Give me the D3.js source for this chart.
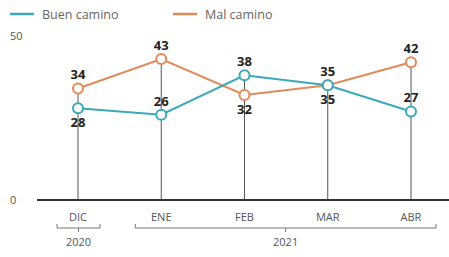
<!DOCTYPE html>
<html>
<head>
<meta charset="utf-8">
<script src="https://cdn.jsdelivr.net/npm/d3@7"></script>
<style>
  body { margin: 0; background: #fff; }
  text { font-family: "Open Sans", sans-serif; }
</style>
</head>
<body>
<div id="plot"></div>
<script>
// data
const months = ["DIC", "ENE", "FEB", "MAR", "ABR"];
const buenCamino = [28, 26, 38, 35, 27];
const malCamino = [34, 43, 32, 35, 42];
const yTicks = [0, 50];
const years = [
  { year: "2020", from: "DIC", to: "DIC" },
  { year: "2021", from: "ENE", to: "ABR" }
];

const width = 449, height = 257;
const teal = "#3aaab8", orange = "#e2895a";

const svg = d3.select("div#plot").append("svg")
    .attr("width", width)
    .attr("height", height);

const x = d3.scalePoint()
    .domain(months)
    .range([78, 411]);

const y = d3.scaleLinear()
    .domain([0, 50])
    .range([200, 36]);

// legend
const legend = [{ name: "Buen camino", color: teal, x: 10 }, { name: "Mal camino", color: orange, x: 173 }];
legend.forEach(l => {
  svg.append("line")
      .attr("x1", l.x).attr("x2", l.x + 24)
      .attr("y1", 14).attr("y2", 14)
      .attr("stroke", l.color).attr("stroke-width", 2.5);
  svg.append("text")
      .attr("x", l.x + 32).attr("y", 18.5)
      .attr("font-size", 12.5)
      .attr("fill", "#666")
      .text(l.name);
});

// y tick labels
svg.selectAll(".ytick")
  .data(yTicks)
  .enter().append("text")
    .attr("class", "ytick")
    .attr("x", 10)
    .attr("y", d => y(d) + 4)
    .attr("font-size", 11)
    .attr("fill", "#555")
    .text(d => d);

// vertical drop lines
svg.selectAll(".drop")
  .data(months)
  .enter().append("line")
    .attr("class", "drop")
    .attr("x1", d => x(d)).attr("x2", d => x(d))
    .attr("y1", (d, i) => y(Math.max(buenCamino[i], malCamino[i])))
    .attr("y2", y(0))
    .attr("stroke", "#555")
    .attr("stroke-width", 1);

// baseline
svg.append("line")
    .attr("x1", 37).attr("x2", width)
    .attr("y1", y(0)).attr("y2", y(0))
    .attr("stroke", "#333")
    .attr("stroke-width", 2);

// month labels
svg.selectAll(".month")
  .data(months)
  .enter().append("text")
    .attr("class", "month")
    .attr("x", d => x(d))
    .attr("y", 221)
    .attr("text-anchor", "middle")
    .attr("font-size", 11)
    .attr("fill", "#555")
    .text(d => d);

// year brackets
years.forEach(yr => {
  const x0 = x(yr.from) - (yr.from === yr.to ? 21 : 26);
  const x1 = x(yr.to) + (yr.from === yr.to ? 22 : 25);
  const mid = (x0 + x1) / 2;
  const g = svg.append("g").attr("stroke", "#777").attr("stroke-width", 1).attr("fill", "none");
  g.append("path").attr("d", `M${x0},224V228H${x1}V224`);
  g.append("line").attr("x1", mid).attr("x2", mid).attr("y1", 228).attr("y2", 232);
  svg.append("text")
      .attr("x", mid).attr("y", 246)
      .attr("text-anchor", "middle")
      .attr("font-size", 11)
      .attr("fill", "#555")
      .text(yr.year);
});

const series = [
  { values: malCamino, other: buenCamino, color: orange },
  { values: buenCamino, other: malCamino, color: teal }
];

const line = d3.line()
    .x((d, i) => x(months[i]))
    .y(d => y(d));

series.forEach(s => {
  svg.append("path")
      .datum(s.values)
      .attr("d", line)
      .attr("fill", "none")
      .attr("stroke", s.color)
      .attr("stroke-width", 2);
});

series.forEach(s => {
  svg.selectAll(null)
    .data(s.values)
    .enter().append("circle")
      .attr("cx", (d, i) => x(months[i]))
      .attr("cy", d => y(d))
      .attr("r", 5)
      .attr("fill", "#fff")
      .attr("stroke", s.color)
      .attr("stroke-width", 2);
});

// value labels: higher point above, lower point below unless the gap is wide
series.forEach((s, k) => {
  svg.selectAll(null)
    .data(s.values)
    .enter().append("text")
      .attr("x", (d, i) => x(months[i]))
      .attr("y", (d, i) => {
        const o = s.other[i];
        const above = d > o || (d === o && k === 0) || (o - d >= 10);
        return above ? y(d) - 9 : y(d) + 19;
      })
      .attr("text-anchor", "middle")
      .attr("font-size", 13)
      .attr("font-weight", "bold")
      .attr("fill", "#222")
      .text(d => d);
});
</script>
</body>
</html>
